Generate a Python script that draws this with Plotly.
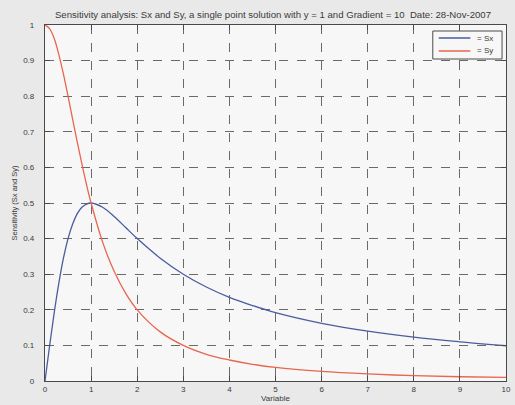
import plotly.graph_objects as go

x_vals = [0, 0.1, 0.2, 0.3, 0.4, 0.5, 0.6, 0.7, 0.8, 0.9, 1.0, 1.25, 1.5, 1.75, 2, 2.5, 3, 3.5, 4, 4.5, 5, 6, 7, 8, 9, 10]
sx_vals = [0, 0.099, 0.192, 0.275, 0.345, 0.4, 0.441, 0.47, 0.488, 0.497, 0.5, 0.488, 0.462, 0.431, 0.4,
           0.345, 0.3, 0.264, 0.235, 0.212, 0.192, 0.162, 0.14, 0.123, 0.11, 0.099]
sy_vals = [1, 0.99, 0.962, 0.917, 0.862, 0.8, 0.735, 0.671, 0.61, 0.552, 0.5, 0.39, 0.308, 0.246, 0.2,
           0.138, 0.1, 0.075, 0.059, 0.047, 0.038, 0.027, 0.02, 0.015, 0.012, 0.01]
series_names = ["= Sx", "= Sy"]
series_colors = ["#4c5c9e", "#e8664e"]
x_ticks = list(range(0, 11))
y_ticks = [0, 0.1, 0.2, 0.3, 0.4, 0.5, 0.6, 0.7, 0.8, 0.9, 1]
y_tick_labels = ["0", "0.1", "0.2", "0.3", "0.4", "0.5", "0.6", "0.7", "0.8", "0.9", "1"]

FONT = "Liberation Sans, Arial, sans-serif"
TXT = "#3a3a3a"

fig = go.Figure()
for name, ys, col in zip(series_names, [sx_vals, sy_vals], series_colors):
    fig.add_trace(go.Scatter(x=x_vals, y=ys, mode="lines", name=name, showlegend=False,
                             line=dict(color=col, width=1.3, shape="spline")))

axis_common = dict(
    showgrid=True, gridcolor="#6a6a6a", gridwidth=1, griddash="dash",
    showline=True, linecolor="#4a4a4a", linewidth=1.2, mirror="ticks",
    ticks="inside", ticklen=5, tickcolor="#4a4a4a",
    zeroline=False, tickfont=dict(family=FONT, size=8, color=TXT),
)

fig.update_layout(
    width=515, height=405,
    margin=dict(l=45, r=4, t=25, b=24),
    paper_bgcolor="#e9e9e9", plot_bgcolor="#f7f7f7",
    title=dict(text="Sensitivity analysis: Sx and Sy, a single point solution with y = 1 and Gradient = 10  Date: 28-Nov-2007",
               font=dict(family=FONT, size=9.6, color=TXT),
               x=0.53, xanchor="center", y=0.963, yanchor="middle"),
    xaxis=dict(range=[0, 10], tickvals=x_ticks, ticklabeloverflow="allow",
               title=dict(text="Variable", font=dict(family=FONT, size=8, color=TXT), standoff=2),
               **axis_common),
    yaxis=dict(range=[0, 1], tickvals=y_ticks, ticktext=y_tick_labels, ticklabelstandoff=8,
               title=dict(text="Sensitivity (Sx and Sy)", font=dict(family=FONT, size=7.5, color=TXT), standoff=4),
               **axis_common),
    showlegend=False,
)

# manual compact legend (MATLAB style box)
fig.add_shape(type="rect", xref="paper", yref="paper",
              x0=(437 - 45) / 466, x1=(507 - 45) / 466,
              y0=(381 - 59) / 356, y1=(381 - 31) / 356,
              line=dict(color="#4a4a4a", width=1), fillcolor="#f7f7f7", layer="above")
for i, (name, col) in enumerate(zip(series_names, series_colors)):
    ypix = 38 + i * 13
    yp = (381 - ypix) / 356
    fig.add_shape(type="line", xref="paper", yref="paper",
                  x0=(443 - 45) / 466, x1=(475 - 45) / 466, y0=yp, y1=yp,
                  line=dict(color=col, width=1.3), layer="above")
    fig.add_annotation(x=(480 - 45) / 466, y=yp, xref="paper", yref="paper",
                       text=name, showarrow=False, xanchor="left", yanchor="middle",
                       font=dict(family=FONT, size=8, color=TXT))

fig.write_html("out.html")
